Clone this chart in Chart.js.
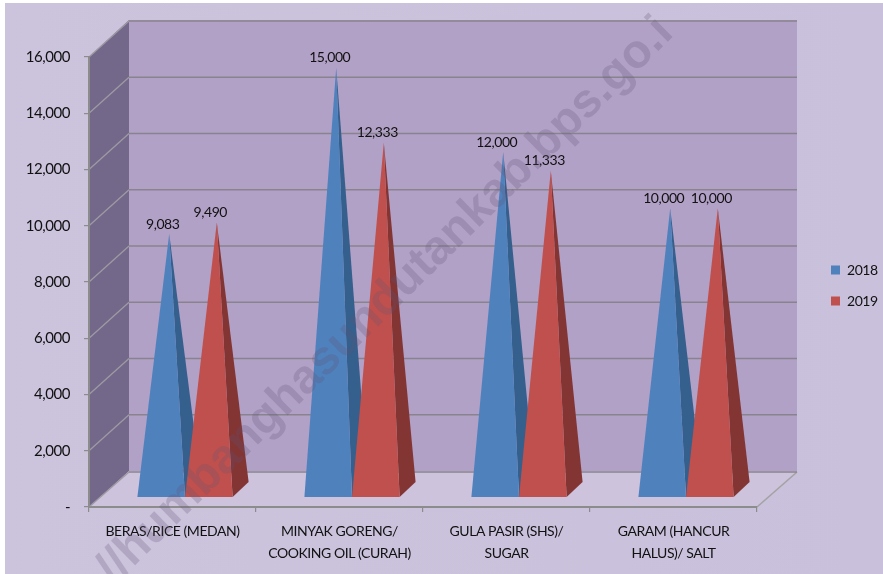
<!DOCTYPE html>
<html><head><meta charset="utf-8">
<style>html,body{margin:0;padding:0;background:#fff}#w{width:883px;height:574px}canvas{display:block;filter:blur(.35px)}</style>
<script src="https://cdn.jsdelivr.net/npm/chart.js@4/dist/chart.umd.js"></script>
</head><body><div id="w"><canvas id="c" width="883" height="574"></canvas></div>
<script>
const categories = [["BERAS/RICE (MEDAN)"],["MINYAK GORENG/","COOKING OIL (CURAH)"],["GULA PASIR (SHS)/","SUGAR"],["GARAM (HANCUR","HALUS)/ SALT"]];
const seriesNames = ["2018","2019"];
const values2018 = [9083,15000,12000,10000];
const values2019 = [9490,12333,11333,10000];
const watermarkText = "//humbanghasundutankab.bps.go.i";

const FONT = "Lato";
const TIGHT = "-0.45px";
const DX = 40, DY = 36;           // depth of the 3D box
const BX = 12.5, BY = 10;         // front of pyramids relative to front plane
const PDX = 16, PDY = 15;         // depth of a pyramid
const fmt = v => v.toLocaleString("en-US");

class PyramidController extends Chart.BarController {
  draw() {
    // The library paints dataset 0 last; the 2019 series has to sit on top of 2018.
    if (this.index !== 0) return;
    this.chart.data.datasets.forEach((d, i) => this.chart.getDatasetMeta(i).controller.drawPyramids());
  }
  drawPyramids() {
    const meta = this.getMeta(), ctx = this.chart.ctx;
    const ds = this.getDataset(), y = this.chart.scales.y;
    const base = y.getPixelForValue(0) - BY;
    meta.data.forEach((el, i) => {
      const v = ds.data[i];
      const cx = el.x + BX, w = el.width / 2;
      const ax = cx + PDX / 2, ay = y.getPixelForValue(v) - BY - PDY / 2;
      ctx.beginPath();
      ctx.moveTo(cx + w, base); ctx.lineTo(cx + w + PDX, base - PDY); ctx.lineTo(ax, ay); ctx.closePath();
      ctx.fillStyle = ds.sideColor; ctx.fill();
      ctx.beginPath();
      ctx.moveTo(cx - w, base); ctx.lineTo(cx + w, base); ctx.lineTo(ax, ay); ctx.closePath();
      ctx.fillStyle = ds.backgroundColor; ctx.fill();
      ctx.fillStyle = "#111"; ctx.font = "14px " + FONT;
      ctx.textAlign = "center"; ctx.textBaseline = "alphabetic";
      ctx.fillText(fmt(v), ax - 6.5, ay - 5.5);
    });
  }
}
PyramidController.id = "pyramid";
PyramidController.defaults = Chart.BarController.defaults;
PyramidController.overrides = Chart.BarController.overrides;
Chart.register(PyramidController);

const box3d = {
  id: "box3d",
  beforeUpdate(chart) { chart.ctx.letterSpacing = TIGHT; },
  afterLayout(chart) {
    const lg = chart.legend;
    if (lg) { lg.left = 814; lg.right = 883; lg.top -= 30; lg.bottom -= 30; }
  },
  beforeDraw(chart) {
    const { ctx, scales: { x, y } } = chart;
    ctx.letterSpacing = TIGHT;
    const l = x.left, r = x.right, t = y.top, b = y.bottom;
    ctx.save();
    ctx.fillStyle = "#fff"; ctx.fillRect(0, 0, chart.width, chart.height);
    const g = ctx.createLinearGradient(0, 0, chart.width, 0);
    g.addColorStop(0, "#ccc3dd"); g.addColorStop(1, "#c9c0db");
    ctx.fillStyle = g; ctx.fillRect(5, 3, chart.width - 5, chart.height - 3);
    // back wall
    ctx.fillStyle = "#b2a1c7"; ctx.fillRect(l + DX, t - DY - 1, r - l, b - t + 1);
    // side wall
    ctx.fillStyle = "#73688a";
    ctx.beginPath(); ctx.moveTo(l, t); ctx.lineTo(l + DX, t - DY - 1); ctx.lineTo(l + DX, b - DY); ctx.lineTo(l, b); ctx.closePath(); ctx.fill();
    // floor
    ctx.fillStyle = "#cdc3dc";
    ctx.beginPath(); ctx.moveTo(l, b); ctx.lineTo(l + DX, b - DY + 1); ctx.lineTo(r + DX, b - DY + 1); ctx.lineTo(r, b); ctx.closePath(); ctx.fill();
    ctx.strokeStyle = "#a3a3a3"; ctx.lineWidth = 1.6;
    ctx.beginPath(); ctx.moveTo(r, b); ctx.lineTo(r + DX, b - DY + 1); ctx.stroke();
    // grid lines from the scale
    y.ticks.forEach(tk => {
      const p = y.getPixelForValue(tk.value);
      const dy = tk.value === 0 ? DY - 1 : DY;
      ctx.strokeStyle = "#9d9aa3"; ctx.lineWidth = 1.3;
      ctx.beginPath(); ctx.moveTo(l, p); ctx.lineTo(l + DX, p - dy); ctx.stroke();
      ctx.strokeStyle = "#88848e"; ctx.lineWidth = 1.6;
      ctx.beginPath(); ctx.moveTo(l + DX, p - dy); ctx.lineTo(r + DX, p - dy); ctx.stroke();
    });
    ctx.restore();
  },
  afterDraw(chart) {
    const ctx = chart.ctx;
    ctx.save();
    ctx.letterSpacing = "0px";
    ctx.beginPath(); ctx.rect(5, 3, chart.width - 5, chart.height - 3); ctx.clip();
    ctx.translate(114, 586);
    ctx.rotate(-44.5 * Math.PI / 180);
    ctx.font = "bold 47.5px 'Liberation Sans'";
    ctx.fillStyle = "rgba(95,85,115,.25)";
    ctx.textAlign = "left"; ctx.textBaseline = "alphabetic";
    ctx.fillText(watermarkText, 0, 0);
    ctx.restore();
  }
};

new Chart(document.getElementById("c"), {
  type: "pyramid",
  plugins: [box3d],
  data: {
    labels: categories,
    datasets: [
      { label: seriesNames[0], data: values2018, backgroundColor: "#4f81bd", sideColor: "#355f8c", clip: false },
      { label: seriesNames[1], data: values2019, backgroundColor: "#c0504d", sideColor: "#833534", clip: false }
    ]
  },
  options: {
    responsive: false, animation: false, devicePixelRatio: 1,
    layout: { padding: { top: 57, left: 0, right: 66, bottom: 0 } },
    datasets: { pyramid: { categoryPercentage: 0.57, barPercentage: 1 } },
    plugins: {
      title: { display: false }, tooltip: { enabled: false },
      legend: {
        display: true, position: "right", align: "center", maxWidth: 60,
        labels: { boxWidth: 9, boxHeight: 9, padding: 17, color: "#111", font: { family: FONT, size: 14 } }
      }
    },
    scales: {
      x: {
        afterFit(s) { s.height = 67; },
        grid: { offset: true, drawOnChartArea: false, tickLength: 5, color: "#8c8c8c", lineWidth: 1.2 },
        border: { color: "#8c8c8c", width: 2 },
        ticks: { maxRotation: 0, minRotation: 0, autoSkip: false, padding: 8, color: "#111", font: { family: FONT, size: 14, lineHeight: 1.6 } }
      },
      y: {
        min: 0, max: 16000,
        afterFit(s) { s.width = 89; },
        grid: { drawOnChartArea: false, tickLength: 5, color: "#8c8c8c", lineWidth: 1.2 },
        border: { color: "#8c8c8c", width: 2 },
        ticks: { stepSize: 2000, padding: 14, color: "#111", font: { family: FONT, size: 15 }, callback: v => v === 0 ? "-" : fmt(v) }
      }
    }
  }
});
</script></body></html>
